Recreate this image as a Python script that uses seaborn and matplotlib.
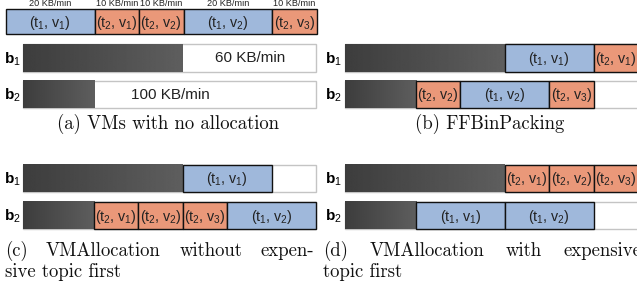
import numpy as np
import matplotlib
matplotlib.use("Agg")
import matplotlib.pyplot as plt
import seaborn as sns

# ---------------- data ----------------
topic_names = ["(t1,v1)", "(t2,v1)", "(t2,v2)", "(t1,v2)", "(t2,v3)"]
topic_rates = [20, 10, 10, 20, 10]            # KB/min
topic_labels = ["20 KB/min", "10 KB/min", "10 KB/min", "20 KB/min", "10 KB/min"]

brokers = ["b1", "b2"]
broker_total = 66                              # drawn bar length (diagram units)
broker_used = [36, 16]                          # pre-used (gray) part
broker_free_labels = ["60 KB/min", "100 KB/min"]

alloc_ffbp = {"b1": ["(t1,v1)", "(t2,v1)"],
              "b2": ["(t2,v2)", "(t1,v2)", "(t2,v3)"]}
alloc_vma_no = {"b1": ["(t1,v1)"],
                "b2": ["(t2,v1)", "(t2,v2)", "(t2,v3)", "(t1,v2)"]}
alloc_vma_exp = {"b1": ["(t2,v1)", "(t2,v2)", "(t2,v3)"],
                 "b2": ["(t1,v1)", "(t1,v2)"]}

captions = ["(a) VMs with no allocation", "(b) FFBinPacking",
            "(c) VMAllocation without expen-\nsive topic first",
            "(d) VMAllocation with expensive\ntopic first"]

# ---------------- style ----------------
sns.set_theme(style="white")
plt.rcParams["font.family"] = ["Liberation Sans", "DejaVu Sans"]
plt.rcParams["mathtext.fontset"] = "custom"
plt.rcParams["mathtext.rm"] = "Liberation Sans"
plt.rcParams["mathtext.it"] = "Liberation Sans"
plt.rcParams["mathtext.bf"] = "Liberation Sans:bold"

BLUE = "#9fb8db"
ORANGE = "#ea9879"
rate = dict(zip(topic_names, topic_rates))


def color_of(name):
    return BLUE if name.startswith("(t1") else ORANGE


def tex(name):
    t, v = name.strip("()").split(",")
    return r"(t$_{%s}$, v$_{%s}$)" % (t[1:], v[1:])


PX = 4.44  # pixels per unit
W, H = 637, 285
fig = plt.figure(figsize=(W / 100, H / 100), dpi=100)
ax = fig.add_axes([0, 0, 1, 1])
ax.set_axis_off()


def ux(px):
    return (px - 23) / PX


ax.set_xlim(ux(0), ux(W))
ax.set_ylim(H, 0)

COL_OFF = [0.0, ux(345)]          # panel column offsets in units
ROW_Y = {"top": [58, 94.5], "bottom": [178.5, 215.5]}
BAR_H = 27.5

gray_grad = np.linspace(0.24, 0.37, 256)[None, :]


def draw_broker(x0, yc, used):
    ax.barh(yc, broker_total, left=x0, height=BAR_H, color="white",
            edgecolor="#c4c4c4", linewidth=1.0, zorder=1)
    ax.imshow(gray_grad, cmap="gray", vmin=0, vmax=1, aspect="auto",
              extent=(x0, x0 + used, yc + BAR_H / 2, yc - BAR_H / 2),
              zorder=2, interpolation="bilinear")


def draw_boxes(x0, yc, names, h=BAR_H):
    left = x0
    for n in names:
        w = rate[n]
        ax.barh(yc, w, left=left, height=h, color=color_of(n),
                edgecolor="#111111", linewidth=1.0, zorder=3)
        ax.text(left + w / 2, yc + 1, tex(n), ha="center", va="center",
                fontsize=10.3, color="#222222", zorder=4)
        left += w


def broker_labels(px_x, ys):
    for b, y in zip(brokers, ys):
        ax.text(ux(px_x), y + 1, r"$\mathbf{b}_{%s}$" % b[1:], ha="left",
                va="center", fontsize=11, color="black")


# ---- panel (a) ----
strip_x0 = ux(6)
strip_y = 21.5
draw_boxes(strip_x0, strip_y, topic_names, h=25)
left = strip_x0
for n, lab in zip(topic_names, topic_labels):
    ax.text(left + rate[n] / 2, 7.5, lab, ha="center", va="bottom",
            fontsize=6.6, color="#222222")
    left += rate[n]
ys = ROW_Y["top"]
for i, b in enumerate(brokers):
    draw_broker(COL_OFF[0], ys[i], broker_used[i])
ax.text(ux(250), ys[0] + 0.5, broker_free_labels[0], ha="center",
        va="center", fontsize=11, color="#222222", zorder=4)
ax.text(ux(170), ys[1] + 0.5, broker_free_labels[1], ha="center",
        va="center", fontsize=11, color="#222222", zorder=4)
broker_labels(4, ys)

# ---- panels (b), (c), (d) ----
panels = [(alloc_ffbp, COL_OFF[1], ROW_Y["top"]),
          (alloc_vma_no, COL_OFF[0], ROW_Y["bottom"]),
          (alloc_vma_exp, COL_OFF[1], ROW_Y["bottom"])]
for alloc, x0, ys in panels:
    for i, b in enumerate(brokers):
        draw_broker(x0, ys[i], broker_used[i])
        draw_boxes(x0 + broker_used[i], ys[i], alloc[b])
    broker_labels(4 if x0 == 0 else 325, ys)

# ---- captions ----
cap_font = dict(family="cmr10", fontsize=13.5, color="#111111")
ax.text(ux(168), 124, captions[0], ha="center", va="center", **cap_font)
ax.text(ux(490), 124, captions[1], ha="center", va="center", **cap_font)

renderer = fig.canvas.get_renderer()


def justified(line, x_left, x_right, y_base):
    words = line.split(" ")
    txts = [ax.text(0, y_base, w, ha="left", va="baseline", **cap_font)
            for w in words]
    widths = [t.get_window_extent(renderer).width for t in txts]
    gap = (x_right - x_left - sum(widths)) / max(len(words) - 1, 1)
    x = x_left
    for t, w in zip(txts, widths):
        t.set_x(ux(x))
        x += w + gap


def left_line(line, x_left, y_base):
    ax.text(ux(x_left), y_base, line, ha="left", va="baseline", **cap_font)


c_lines = captions[2].split("\n")
d_lines = captions[3].split("\n")
justified(c_lines[0], 5, 314, 256)
left_line(c_lines[1], 5, 277)
justified(d_lines[0], 323, 641, 256)
left_line(d_lines[1], 323, 277)

fig.savefig("out.png", dpi=100)
